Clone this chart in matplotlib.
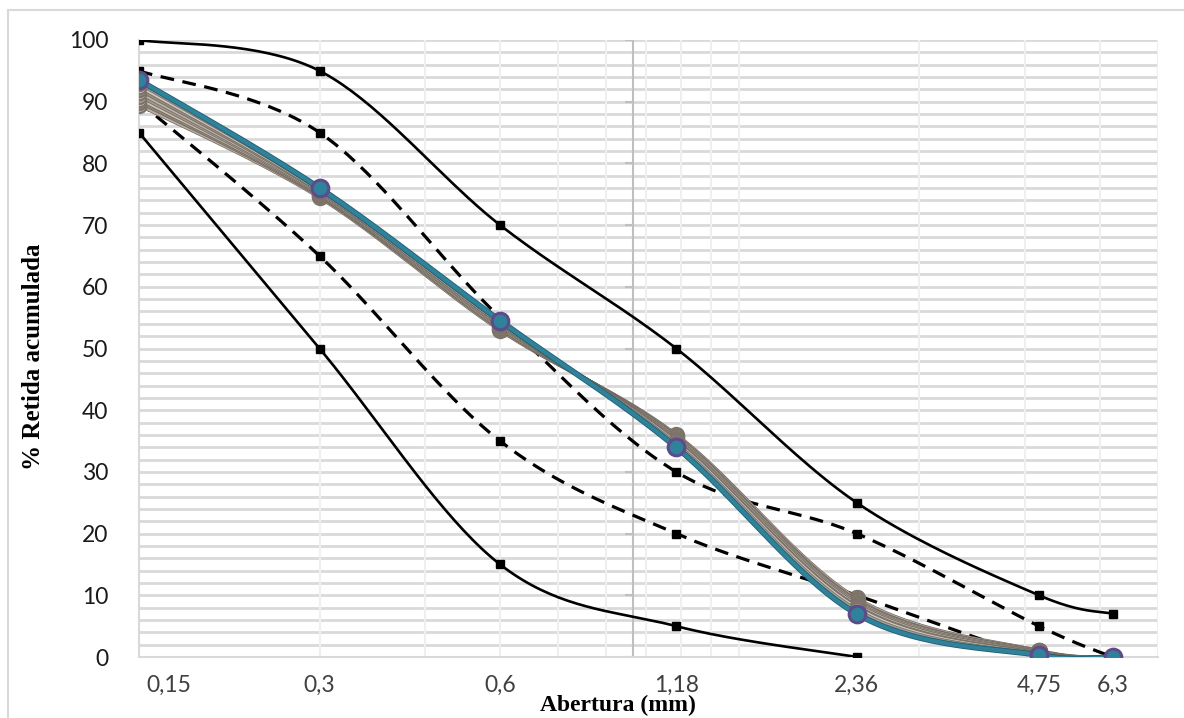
import numpy as np
import matplotlib
matplotlib.use("Agg")
import matplotlib.pyplot as plt
from matplotlib.lines import TICKLEFT
import matplotlib.transforms as mtransforms
from matplotlib.patches import Rectangle

# ---- data ----
sieves = [0.15, 0.3, 0.6, 1.18, 2.36, 4.75, 6.3]
tick_labels = ["0,15", "0,3", "0,6", "1,18", "2,36", "4,75", "6,3"]

upper_solid = [100, 95, 70, 50, 25, 10, 7]
upper_dashed = [95, 85, 55, 30, 20, 5, 0]
lower_dashed = [90, 65, 35, 20, 10, 0, 0]
lower_solid_x = [0.15, 0.3, 0.6, 1.18, 2.36]
lower_solid = [85, 50, 15, 5, 0]

sample_1 = [89.5, 74.5, 53.0, 36.0, 9.5, 1.0, 0]
sample_2 = [90.0, 74.7, 53.2, 35.8, 9.2, 0.9, 0]
sample_3 = [90.5, 74.9, 53.4, 35.6, 9.0, 0.9, 0]
sample_4 = [91.0, 75.0, 53.6, 35.4, 8.8, 0.8, 0]
sample_5 = [91.5, 75.2, 53.8, 35.2, 8.5, 0.7, 0]
sample_6 = [92.0, 75.4, 54.0, 35.0, 8.2, 0.6, 0]
sample_7 = [92.5, 75.6, 54.1, 34.8, 8.0, 0.5, 0]
sample_8 = [93.0, 75.8, 54.3, 34.5, 7.6, 0.4, 0]
sample_main = [93.5, 76.0, 54.5, 34.0, 7.0, 0.3, 0]

band_series = [sample_1, sample_2, sample_3, sample_4, sample_5, sample_6, sample_7, sample_8]
band_colors = ['#b8aea3', '#8e8378', '#c9c0b6', '#a0968b', '#bdb3a8', '#938a80', '#cfc6bc', '#a89e93']


def smooth(xs, ys, n=40):
    """Excel-like smoothing (Catmull-Rom) in log-x space."""
    lx = np.log10(np.asarray(xs, float))
    y = np.asarray(ys, float)
    P = np.column_stack([lx, y])
    m = len(P)
    out = []
    for i in range(m - 1):
        p0 = P[i - 1] if i > 0 else P[i]
        p1 = P[i]
        p2 = P[i + 1]
        p3 = P[i + 2] if i + 2 < m else P[i + 1]
        c1 = p1 + (p2 - p0) / 6.0
        c2 = p2 - (p3 - p1) / 6.0
        t = np.linspace(0, 1, n)[:, None]
        seg = ((1 - t) ** 3) * p1 + 3 * ((1 - t) ** 2) * t * c1 + 3 * (1 - t) * t ** 2 * c2 + t ** 3 * p2
        if i > 0:
            seg = seg[1:]
        out.append(seg)
    out = np.vstack(out)
    return 10 ** out[:, 0], out[:, 1]


fig = plt.figure(figsize=(11.84, 7.18), dpi=100)
fig.patches.append(Rectangle((8 / 1184, -0.05), 1.2, (718 - 10) / 718 + 0.05,
                             transform=fig.transFigure, fill=False,
                             edgecolor='#d9d9d9', linewidth=1.5))
ax = fig.add_axes([139 / 1184, (718 - 657) / 718, (1158 - 139) / 1184, (657 - 40) / 718])

ax.set_xscale('log')
ax.set_xlim(0.15, 7.5)
ax.set_ylim(0, 100)

# grid
for yv in np.arange(2, 101, 2):
    ax.axhline(yv, color='#d9d9d9', lw=2.0, zorder=0)
for k in range(2, 11):
    ax.axvline(0.15 * k, color='#efefef', lw=1.5, zorder=0)
for k in range(2, 6):
    ax.axvline(1.5 * k, color='#efefef', lw=1.5, zorder=0)
# vertical axis crossing at 1
ax.axvline(1.0, color='#bfbfbf', lw=1.5, zorder=0.5)
ax.plot([1.0] * 11, np.arange(0, 101, 10), linestyle='none', marker=TICKLEFT,
        markersize=6, color='#bfbfbf', mew=1.5, zorder=0.5)

for s in ['top', 'right']:
    ax.spines[s].set_visible(False)
ax.spines['left'].set_color('#d9d9d9')
ax.spines['left'].set_linewidth(1.5)
ax.spines['bottom'].set_color('#d9d9d9')
ax.spines['bottom'].set_linewidth(1.5)

# limit curves
def limit(xs, ys, ls):
    sx, sy = smooth(xs, ys)
    if ls == 'solid':
        ax.plot(sx, sy, color='black', lw=1.9, zorder=3, solid_capstyle='butt')
    else:
        ax.plot(sx, sy, color='black', lw=2.3, dashes=(4.3, 2.7), zorder=3)
    ax.plot(xs, ys, linestyle='none', marker='s', markersize=5.5, color='black', zorder=3.5)

limit(sieves, upper_solid, 'solid')
limit(sieves, upper_dashed, 'dashed')
limit(sieves, lower_dashed, 'dashed')
limit(lower_solid_x, lower_solid, 'solid')

# sample curves
for vals, col in zip(band_series, band_colors):
    sx, sy = smooth(sieves, vals)
    ax.plot(sx, sy, color='#6f665d', lw=2.8, zorder=4)
    ax.plot(sx, sy, color=col, lw=1.8, zorder=4)
    ax.plot(sieves, vals, linestyle='none', marker='o', markersize=11,
            markerfacecolor=col, markeredgecolor='#7d7369', mew=1.5, zorder=4)

sx, sy = smooth(sieves, sample_main)
ax.plot(sx, sy, color='#1f5f73', lw=4.2, zorder=5)
ax.plot(sx, sy, color='#2f8299', lw=3.0, zorder=5)
ax.plot(sieves, sample_main, linestyle='none', marker='o', markersize=12,
        markerfacecolor='#2f8299', markeredgecolor='#5e4b8b', mew=2.2, zorder=5.5)

# ticks
ax.set_xticks(sieves)
ax.set_xticklabels(tick_labels)
ax.xaxis.set_minor_locator(matplotlib.ticker.NullLocator())
ax.set_yticks(np.arange(0, 101, 10))
ax.tick_params(axis='both', length=0, labelsize=16.5)
ax.tick_params(axis='x', pad=13, labelcolor='#404040')
ax.tick_params(axis='y', pad=22, labelcolor='#1a1a1a')
for lab in ax.get_yticklabels() + ax.get_xticklabels():
    lab.set_family(['Lato', 'DejaVu Sans'])
first = ax.get_xticklabels()[0]
first.set_horizontalalignment('left')
first.set_transform(first.get_transform() + mtransforms.ScaledTranslation(7 / 100, 0, fig.dpi_scale_trans))

ax.set_ylabel('% Retida acumulada', family=['Liberation Serif', 'DejaVu Serif'],
              fontweight='bold', fontsize=18, labelpad=18)
ax.yaxis.set_label_coords(-(139 - 45) / (1158 - 139), (657 - 357) / (657 - 40))
ax.yaxis.label.set_horizontalalignment('center')
ax.set_xlabel('Abertura (mm)', family=['Liberation Serif', 'DejaVu Serif'],
              fontweight='bold', fontsize=17, labelpad=16)
ax.xaxis.set_label_coords((618 - 139) / (1158 - 139), -(705 - 657) / (657 - 40))
ax.xaxis.label.set_verticalalignment('center')

fig.savefig('out.png', dpi=100)
